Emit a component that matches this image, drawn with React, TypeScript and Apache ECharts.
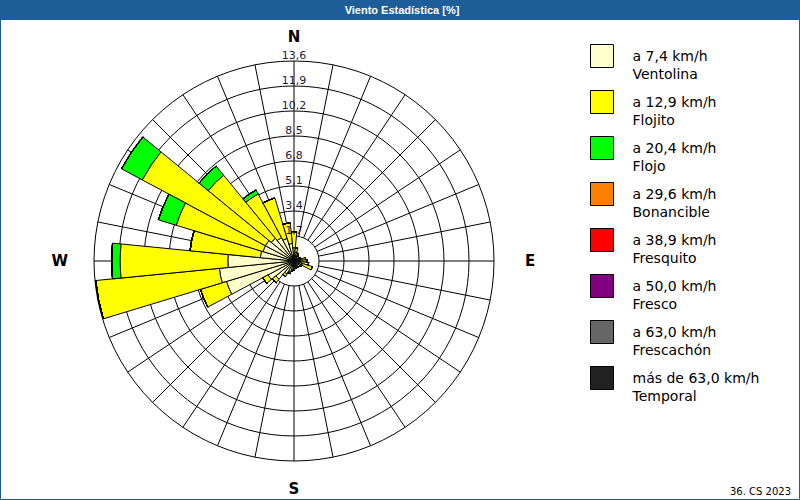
import React, { useEffect, useRef } from "react";
import * as echarts from "echarts";

const directions = [
  "N", "NbE", "NNE", "NEbN", "NE", "NEbE", "ENE", "EbN",
  "E", "EbS", "ESE", "SEbE", "SE", "SEbS", "SSE", "SbE",
  "S", "SbW", "SSW", "SWbS", "SW", "SWbW", "WSW", "WbS",
  "W", "WbN", "WNW", "NWbW", "NW", "NWbN", "NNW", "NbW",
];
const compassLabels: Record<number, string> = { 0: "N", 90: "E", 180: "S", 270: "W" };
const ringStep = 1.7;
const ringMax = 13.6;

const classSpeeds = [
  "a 7,4 km/h", "a 12,9 km/h", "a 20,4 km/h", "a 29,6 km/h",
  "a 38,9 km/h", "a 50,0 km/h", "a 63,0 km/h", "más de 63,0 km/h",
];
const classNames = [
  "Ventolina", "Flojito", "Flojo", "Bonancible",
  "Fresquito", "Fresco", "Frescachón", "Temporal",
];
const classColors = [
  "#ffffcc", "#ffff00", "#00ff00", "#ff8000",
  "#ff0000", "#800080", "#666666", "#222222",
];

const ventolina = [
  0.9, 0.6, 0.4, 0.4, 0.3, 0.3, 0.4, 0.5,
  0.5, 0.5, 0.6, 0.4, 0.4, 0.4, 0.4, 0.4,
  0.5, 0.6, 0.8, 1.0, 1.6, 2.0, 4.8, 5.1,
  4.5, 2.3, 2.2, 2.2, 2.0, 1.8, 1.6, 1.2,
];
const flojito = [
  1.1, 0.3, 0.2, 0.1, 0.1, 0.1, 0.1, 0.3,
  0.4, 0.5, 0.7, 0.2, 0.1, 0.1, 0.1, 0.1,
  0.1, 0.1, 0.1, 0.2, 0.3, 0.4, 1.85, 8.45,
  7.33, 4.8, 6.17, 9.5, 5.55, 3.37, 2.88, 1.4,
];
const flojo = [
  0, 0, 0, 0, 0, 0, 0, 0,
  0, 0, 0, 0, 0, 0, 0, 0,
  0, 0, 0, 0, 0, 0, 0, 0,
  0.57, 0, 1.27, 1.6, 0.8, 0.3, 0, 0,
];
const bonancible = new Array(32).fill(0);
const fresquito = new Array(32).fill(0);
const fresco = new Array(32).fill(0);
const frescachon = new Array(32).fill(0);
const temporal = new Array(32).fill(0);
const seriesValues = [ventolina, flojito, flojo, bonancible, fresquito, fresco, frescachon, temporal];

const FONT = "DejaVu Sans";

export default function App() {
  const ref = useRef<HTMLDivElement>(null);
  useEffect(() => {
    if (!ref.current) return;
    const chart = echarts.init(ref.current, undefined, { renderer: "svg" });
    const center = [294, 261];
    const hiddenAxis = {
      axisLine: { show: false },
      axisTick: { show: false },
      axisLabel: { show: false },
      splitLine: { show: false },
    };
    const option: any = {
      animation: false,
      backgroundColor: "#ffffff",
      textStyle: { fontFamily: FONT },
      polar: [
        { center, radius: [25, 200] },
        { center, radius: [0, 200] },
        { center, radius: [0, 200] },
      ],
      angleAxis: [
        {
          polarIndex: 0,
          type: "value",
          min: 0,
          max: 360,
          interval: 11.25,
          startAngle: 90,
          clockwise: true,
          axisLine: { show: false },
          axisTick: { show: false },
          splitLine: { show: true, lineStyle: { color: "#000", width: 1 } },
          axisLabel: {
            margin: 17,
            fontSize: 15,
            fontWeight: "bold",
            color: "#000",
            fontFamily: FONT,
            formatter: (v: number) => {
              const l = compassLabels[v];
              if (!l) return "";
              return "{" + l.toLowerCase() + "|" + l + "}";
            },
            rich: {
              n: { fontSize: 15, fontWeight: "bold", color: "#000" },
              e: { fontSize: 15, fontWeight: "bold", color: "#000", padding: [0, 0, 0, 14] },
              s: { fontSize: 15, fontWeight: "bold", color: "#000", padding: [3, 0, 0, 0] },
              w: { fontSize: 15, fontWeight: "bold", color: "#000", padding: [0, 9, 0, 0] },
            },
          },
        },
        {
          polarIndex: 1,
          type: "category",
          data: directions,
          startAngle: 90 + 360 / directions.length / 2,
          clockwise: true,
          boundaryGap: true,
          ...hiddenAxis,
        },
        {
          polarIndex: 2,
          type: "value",
          min: 0,
          max: 360,
          startAngle: 90,
          clockwise: true,
          ...hiddenAxis,
        },
      ],
      radiusAxis: [
        {
          polarIndex: 0,
          type: "value",
          min: ringStep,
          max: ringMax,
          interval: ringStep,
          axisLine: { show: false },
          axisTick: { show: false },
          axisLabel: { show: false },
          splitLine: { show: true, lineStyle: { color: "#000", width: 1 } },
        },
        {
          polarIndex: 1,
          type: "value",
          min: 0,
          max: ringMax,
          interval: ringStep,
          ...hiddenAxis,
        },
        {
          polarIndex: 2,
          type: "value",
          min: 0,
          max: ringMax,
          interval: ringStep,
          z: 10,
          axisLine: { show: false },
          axisTick: { show: false },
          splitLine: { show: false },
          axisLabel: {
            margin: 0,
            align: "center",
            verticalAlign: "bottom",
            fontSize: 11,
            color: "#1a1a40",
            fontFamily: FONT,
            formatter: (v: number) => (v === 0 ? "" : v.toFixed(1).replace(".", ",")),
          },
        },
      ],
      legend: {
        orient: "vertical",
        left: 590,
        top: 29,
        padding: 0,
        itemGap: -8,
        itemWidth: 23,
        itemHeight: 23,
        icon: "rect",
        selectedMode: false,
        data: classNames,
        itemStyle: { borderColor: "#000", borderWidth: 1 },
        textStyle: {
          fontSize: 14,
          fontFamily: FONT,
          color: "#000",
          lineHeight: 18,
          padding: [0, 0, 0, 14],
        },
        formatter: (name: string) => {
          const i = classNames.indexOf(name);
          return "\n" + classSpeeds[i] + "\n" + name;
        },
      },
      graphic: [
        {
          type: "rect",
          shape: { x: 0.5, y: 0.5, width: 799, height: 499 },
          style: { fill: "none", stroke: "#1d5e98", lineWidth: 1 },
          z: 100,
        },
        {
          type: "rect",
          shape: { x: 0, y: 0, width: 800, height: 20 },
          style: { fill: "#1d5e98" },
          z: 100,
        },
        {
          type: "text",
          x: 402,
          y: 10,
          style: {
            text: "Viento Estadística [%]",
            fill: "#ffffff",
            font: "bold 11px 'Liberation Sans'",
            align: "center",
            verticalAlign: "middle",
          },
          z: 101,
        },
        {
          type: "text",
          x: 791,
          y: 491,
          style: {
            text: "36. CS 2023",
            fill: "#000",
            font: "10px 'DejaVu Sans'",
            align: "right",
            verticalAlign: "middle",
          },
          z: 101,
        },
      ],
      series: classNames.map((name, i) => ({
        name,
        type: "bar",
        coordinateSystem: "polar",
        polarIndex: 1,
        stack: "wind",
        barCategoryGap: "0%",
        data: seriesValues[i],
        itemStyle: { color: classColors[i], borderColor: "#000", borderWidth: 1 },
        emphasis: { disabled: true },
      })),
    };
    chart.setOption(option);
    return () => chart.dispose();
  }, []);
  return (
    <div
      ref={ref}
      style={{ position: "absolute", left: 0, top: 0, width: 800, height: 500 }}
    />
  );
}
